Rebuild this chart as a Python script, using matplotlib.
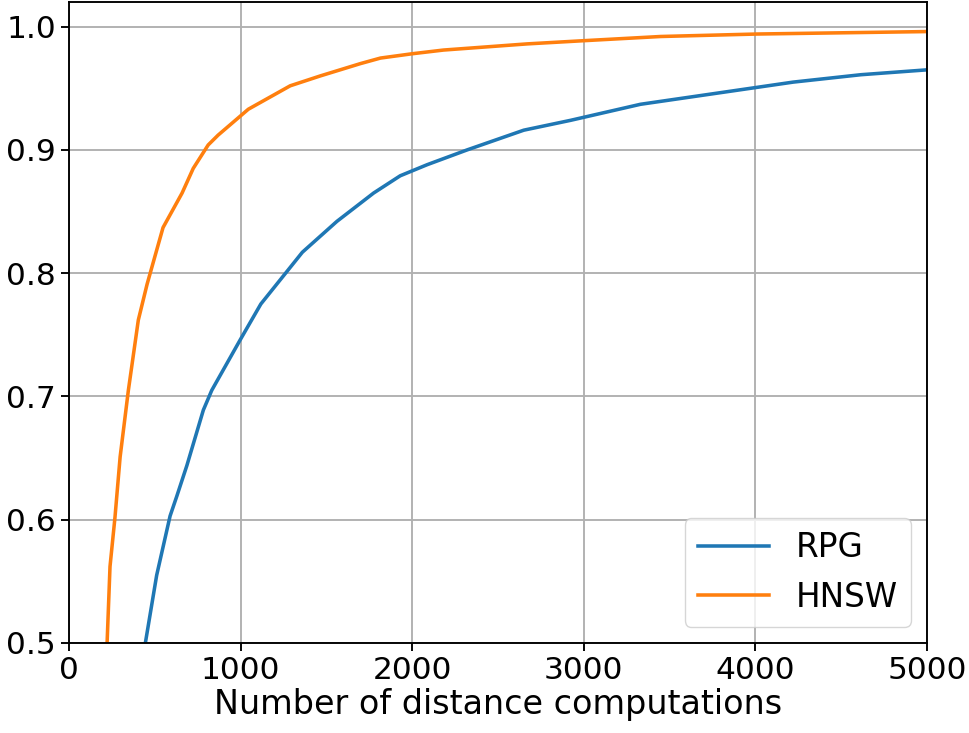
import matplotlib
matplotlib.use("Agg")
import matplotlib.pyplot as plt

# values
rpg_x = [445, 511, 589, 628, 687, 783, 832, 998, 1118, 1360, 1561, 1775, 1930,
         2087, 2320, 2650, 2923, 3330, 4220, 4615, 5005]
rpg_y = [0.500, 0.555, 0.603, 0.619, 0.644, 0.689, 0.705, 0.746, 0.775, 0.817,
         0.842, 0.865, 0.879, 0.888, 0.900, 0.916, 0.924, 0.937, 0.955, 0.961, 0.965]

hnsw_x = [222, 239, 268, 298, 346, 404, 455, 548, 659, 724, 811, 869, 1045,
          1289, 1464, 1698, 1815, 2000, 2182, 2670, 3000, 3448, 4008, 5000]
hnsw_y = [0.500, 0.562, 0.602, 0.651, 0.705, 0.762, 0.791, 0.837, 0.865, 0.885,
          0.904, 0.912, 0.933, 0.952, 0.960, 0.970, 0.9745, 0.978, 0.981, 0.986,
          0.9886, 0.992, 0.994, 0.996]

s = 1.7  # scale of the original render
plt.rcParams["font.size"] = 22.5
plt.rcParams["axes.linewidth"] = 0.8 * s
plt.rcParams["xtick.major.width"] = 0.8 * s
plt.rcParams["ytick.major.width"] = 0.8 * s
plt.rcParams["xtick.major.size"] = 3.5 * s
plt.rcParams["ytick.major.size"] = 3.5 * s
plt.rcParams["grid.linewidth"] = 0.8 * s

fig = plt.figure(figsize=(9.69, 7.33), dpi=100)
ax = fig.add_axes([0.0712, 0.1228, 0.8855, 0.8745])

ax.plot(rpg_x, rpg_y, color="#1f77b4", lw=1.5 * s, label="RPG")
ax.plot(hnsw_x, hnsw_y, color="#ff7f0e", lw=1.5 * s, label="HNSW")

ax.set_xlim(0, 5000)
ax.set_ylim(0.5, 1.02)
ax.set_xticks([0, 1000, 2000, 3000, 4000, 5000])
ax.set_yticks([0.5, 0.6, 0.7, 0.8, 0.9, 1.0])
ax.set_xlabel("Number of distance computations", fontsize=24, labelpad=2)
ax.grid(True)
ax.legend(loc="lower right", fontsize=23.5, handlelength=2.2)

fig.savefig("out.png", dpi=100)
print("Saved out.png")
